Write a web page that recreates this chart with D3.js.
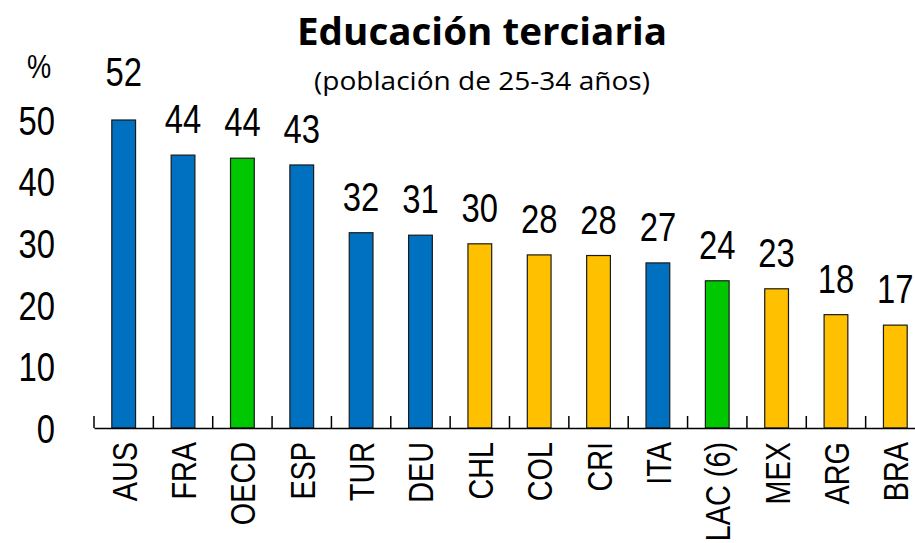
<!DOCTYPE html>
<html lang="es">
<head>
<meta charset="UTF-8">
<title>Educación terciaria</title>
<script src="https://d3js.org/d3.v7.min.js"></script>
<style>
    body, html { margin: 0; padding: 0; background: #fff; overflow: hidden; }
    svg { display: block; }
    .narrow { font-family: "Liberation Sans", Arial, sans-serif; fill: #000; }
</style>
</head>
<body>
<div id="chart"></div>
<script>
    // datos
    var countries = ["AUS", "FRA", "OECD", "ESP", "TUR", "DEU", "CHL", "COL", "CRI", "ITA", "LAC (6)", "MEX", "ARG", "BRA"];
    var values = [52, 44.3, 43.8, 42.7, 31.7, 31.3, 29.9, 28.1, 28.0, 26.8, 23.9, 22.6, 18.4, 16.7];
    var groups = ["ocde", "ocde", "prom", "ocde", "ocde", "ocde", "lac", "lac", "lac", "ocde", "prom", "lac", "lac", "lac"];
    var yTicks = [0, 10, 20, 30, 40, 50];

    var colors = { ocde: "#0070C0", prom: "#00C800", lac: "#FFC000" };

    // la fuente original es "narrow": se comprime en horizontal
    var squeeze = 0.8;

    var width = 915, height = 543;
    var svg = d3.select("#chart").append("svg")
        .attr("width", width)
        .attr("height", height);

    var x = d3.scaleBand()
        .domain(countries)
        .range([94, 925])
        .paddingInner(0.6)
        .paddingOuter(0.3);

    var y = d3.scaleLinear()
        .domain([0, 50])
        .range([428, 120]);

    // titulo
    svg.append("text")
        .attr("x", 482).attr("y", 45)
        .attr("text-anchor", "middle")
        .attr("font-family", "'Open Sans', 'Noto Sans', sans-serif")
        .attr("font-weight", "bold")
        .attr("font-size", 38)
        .attr("textLength", 370)
        .attr("lengthAdjust", "spacingAndGlyphs")
        .text("Educación terciaria");

    svg.append("text")
        .attr("x", 482).attr("y", 90)
        .attr("text-anchor", "middle")
        .attr("font-family", "'Open Sans', 'Noto Sans', sans-serif")
        .attr("font-size", 26)
        .attr("textLength", 336)
        .attr("lengthAdjust", "spacingAndGlyphs")
        .text("(población de 25-34 años)");

    // eje y (solo etiquetas)
    svg.append("text")
        .attr("class", "narrow")
        .attr("transform", "translate(39,78) scale(" + squeeze + ",1)")
        .attr("text-anchor", "middle")
        .attr("font-size", 34)
        .text("%");

    svg.append("g")
        .selectAll("text")
        .data(yTicks)
        .join("text")
        .attr("class", "narrow")
        .attr("transform", d => "translate(55," + y(d) + ") scale(" + squeeze + ",1)")
        .attr("dy", "0.36em")
        .attr("text-anchor", "end")
        .attr("font-size", 41)
        .text(d => d);

    // barras
    svg.append("g")
        .selectAll("rect")
        .data(values)
        .join("rect")
        .attr("x", (d, i) => x(countries[i]))
        .attr("y", d => y(Math.min(d, 50)))
        .attr("width", x.bandwidth())
        .attr("height", d => y(0) - y(Math.min(d, 50)))
        .attr("fill", (d, i) => colors[groups[i]])
        .attr("stroke", "#1a1a1a")
        .attr("stroke-width", 1.2);

    // etiquetas de valor
    svg.append("g")
        .selectAll("text")
        .data(values)
        .join("text")
        .attr("class", "narrow")
        .attr("transform", (d, i) => "translate(" + (x(countries[i]) + x.bandwidth() / 2) + "," + (y(d) - 22) + ") scale(" + squeeze + ",1)")
        .attr("text-anchor", "middle")
        .attr("font-size", 41)
        .text(d => d3.format(".0f")(d));

    // eje x
    var xAxis = d3.axisBottom(x).tickSize(0).tickFormat("");
    var gx = svg.append("g")
        .attr("transform", "translate(0,428)")
        .call(xAxis);
    gx.select(".domain").attr("stroke", "#000").attr("stroke-width", 1.5);

    // marcas entre categorias
    var bounds = d3.range(countries.length + 1).map(i => x.range()[0] + i * x.step());
    svg.append("g")
        .selectAll("line")
        .data(bounds)
        .join("line")
        .attr("x1", d => d).attr("x2", d => d)
        .attr("y1", 428).attr("y2", 416)
        .attr("stroke", "#000")
        .attr("stroke-width", 1.5);

    // etiquetas de categorias
    svg.append("g")
        .selectAll("text")
        .data(countries)
        .join("text")
        .attr("class", "narrow")
        .attr("transform", d => "translate(" + (x(d) + x.bandwidth() / 2) + ",442) rotate(-90) scale(" + squeeze + ",1)")
        .attr("dy", "0.36em")
        .attr("text-anchor", "end")
        .attr("font-size", 36)
        .text(d => d);
</script>
</body>
</html>
